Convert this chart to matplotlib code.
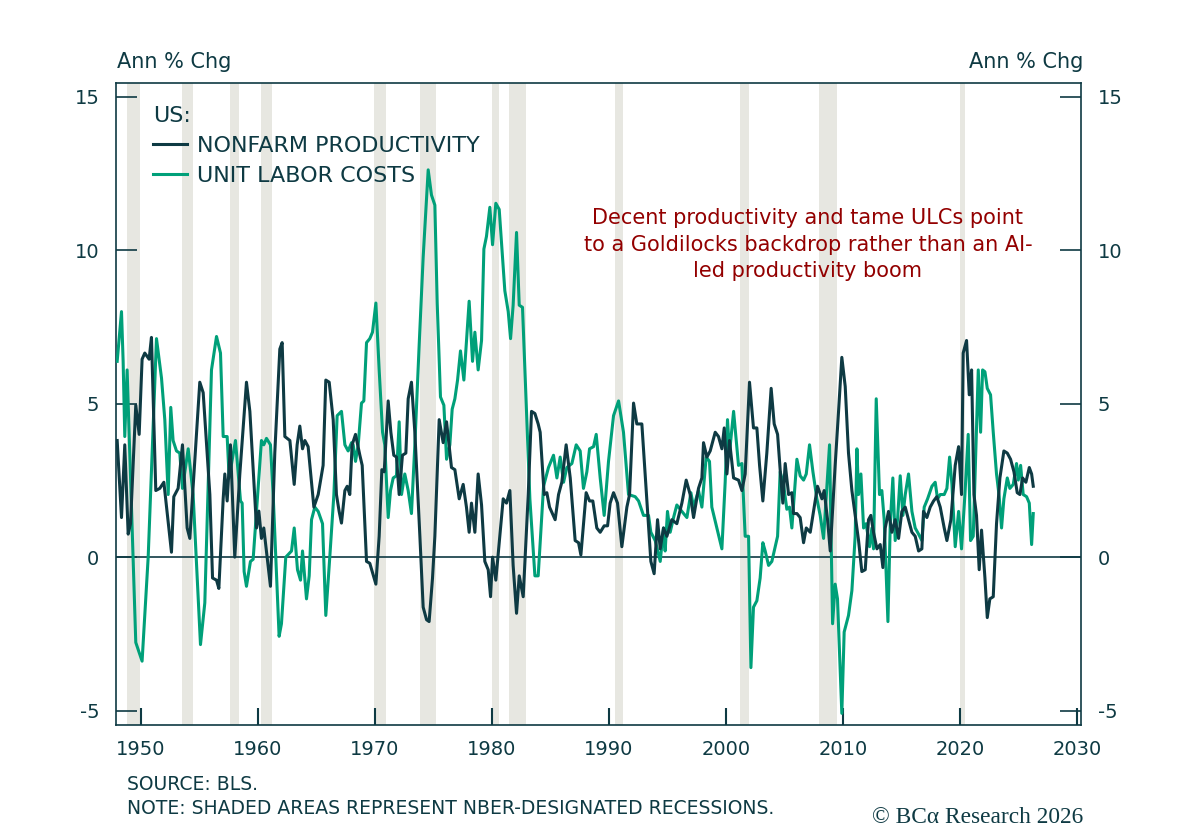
import matplotlib
matplotlib.use('Agg')
import matplotlib.pyplot as plt

plt.rcParams['font.family'] = ['DejaVu Sans']
plt.rcParams['axes.unicode_minus'] = False

DARK = '#0e3a43'
GREEN = '#00a079'
SHADE = '#e7e7e1'
RED = '#930000'

# Nonfarm productivity, annual % change
prod_year = [1947.98, 1948.35, 1948.63, 1948.92, 1949.12, 1949.57, 1949.86, 1950.11, 1950.34, 1950.71,
             1950.91, 1951.28, 1951.62, 1951.97, 1952.62, 1952.82, 1953.19, 1953.56, 1953.96, 1954.19,
             1955.04, 1955.33, 1955.9, 1956.13, 1956.47, 1956.67, 1957.04, 1957.18, 1957.38, 1957.66,
             1958.03, 1958.46, 1959.03, 1959.32, 1959.89, 1960.09, 1960.31, 1960.51, 1961.08, 1961.45,
             1961.88, 1962.08, 1962.31, 1962.74, 1963.11, 1963.36, 1963.59, 1963.82, 1964.02, 1964.3,
             1964.79, 1965.16, 1965.58, 1965.81, 1966.1, 1966.44, 1966.72, 1966.95, 1967.15, 1967.44,
             1967.64, 1967.86, 1968.06, 1968.35, 1968.72, 1968.92, 1969.29, 1969.57, 1970.09, 1970.37,
             1970.6, 1970.8, 1971.14, 1971.37, 1971.62, 1971.85, 1972.08, 1972.36, 1972.65, 1972.85,
             1973.13, 1973.42, 1973.85, 1974.13, 1974.42, 1974.64, 1974.93, 1975.13, 1975.5, 1975.84,
             1976.13, 1976.55, 1976.84, 1977.21, 1977.55, 1977.83, 1978.06, 1978.26, 1978.55, 1978.83,
             1979.12, 1979.4, 1979.69, 1979.89, 1980.06, 1980.34, 1980.68, 1980.97, 1981.25, 1981.54,
             1981.82, 1982.11, 1982.34, 1982.68, 1983.11, 1983.39, 1983.68, 1983.96, 1984.13, 1984.47,
             1984.7, 1984.93, 1985.41, 1985.7, 1985.98, 1986.35, 1986.7, 1987.12, 1987.41, 1987.61,
             1988.06, 1988.35, 1988.63, 1988.97, 1989.26, 1989.6, 1989.89, 1990.11, 1990.4, 1990.74,
             1991.11, 1991.54, 1991.77, 1992.11, 1992.39, 1992.82, 1993.19, 1993.39, 1993.59, 1993.87,
             1994.16, 1994.39, 1994.67, 1994.96, 1995.38, 1995.81, 1996.24, 1996.61, 1996.95, 1997.24,
             1997.66, 1997.95, 1998.09, 1998.38, 1998.66, 1999.09, 1999.37, 1999.66, 1999.86, 2000.09,
             2000.31, 2000.66, 2001.08, 2001.37, 2001.65, 2002.02, 2002.36, 2002.65, 2002.88, 2003.16,
             2003.5, 2003.87, 2004.13, 2004.42, 2004.64, 2004.87, 2005.07, 2005.36, 2005.64, 2005.78,
             2006.07, 2006.35, 2006.64, 2006.87, 2007.21, 2007.49, 2007.83, 2008.21, 2008.4, 2008.69,
             2008.92, 2009.34, 2009.63, 2009.91, 2010.2, 2010.48, 2010.77, 2011.05, 2011.34, 2011.62,
             2011.91, 2012.19, 2012.39, 2012.62, 2012.91, 2013.19, 2013.42, 2013.62, 2013.9, 2014.19,
             2014.47, 2014.76, 2015.04, 2015.33, 2015.61, 2015.9, 2016.18, 2016.47, 2016.75, 2016.89,
             2017.18, 2017.46, 2017.75, 2018.03, 2018.32, 2018.66, 2018.89, 2019.23, 2019.6, 2019.89,
             2020.14, 2020.28, 2020.57, 2020.8, 2021.0, 2021.2, 2021.42, 2021.65, 2021.85, 2022.14,
             2022.34, 2022.56, 2022.85, 2023.13, 2023.42, 2023.76, 2024.05, 2024.33, 2024.62, 2024.9,
             2025.13, 2025.36, 2025.64, 2025.93, 2026.13, 2026.27]
prod_val = [3.8, 1.29, 3.66, 0.75, 1.09, 4.95, 4.0, 6.45, 6.65, 6.45,
            7.16, 2.17, 2.24, 2.44, 0.16, 1.97, 2.24, 3.66, 0.95, 0.61,
            5.7, 5.36, 2.04, -0.68, -0.75, -1.02, 1.9, 2.71, 1.83, 3.66,
            0.0, 2.7, 5.7, 4.75, 0.95, 1.5, 0.61, 0.95, -0.95, 3.39,
            6.78, 6.99, 3.93, 3.8, 2.37, 3.66, 4.27, 3.53, 3.8, 3.6,
            1.63, 2.04, 2.99, 5.77, 5.7, 4.48, 2.04, 1.49, 1.11, 2.17,
            2.31, 2.04, 3.66, 4.0, 3.32, 2.99, -0.14, -0.2, -0.88, 0.68,
            2.85, 2.78, 5.09, 4.07, 3.32, 3.26, 2.04, 3.32, 3.39, 5.16,
            5.7, 4.07, 0.68, -1.63, -2.04, -2.1, -0.68, 0.68, 4.48, 3.73,
            4.41, 2.92, 2.85, 1.9, 2.37, 1.63, 0.81, 1.76, 0.81, 2.71,
            1.7, -0.14, -0.41, -1.29, 0.0, -0.75, 0.68, 1.9, 1.76, 2.17,
            -0.27, -1.83, -0.61, -1.29, 2.04, 4.75, 4.68, 4.34, 4.07, 2.04,
            2.1, 1.63, 1.22, 2.04, 2.44, 3.66, 2.58, 0.54, 0.47, 0.07,
            2.1, 1.83, 1.83, 0.95, 0.81, 1.02, 1.02, 1.76, 2.1, 1.76,
            0.34, 1.63, 2.04, 5.02, 4.34, 4.34, 2.17, 0.95, -0.14, -0.54,
            1.22, 0.27, 0.95, 0.68, 1.22, 1.09, 1.76, 2.51, 2.04, 1.29,
            2.24, 2.58, 3.73, 3.26, 3.46, 4.07, 3.93, 3.53, 4.21, 2.71,
            3.8, 2.58, 2.51, 2.17, 2.71, 5.7, 4.21, 4.21, 2.99, 1.83,
            3.39, 5.5, 4.34, 4.0, 2.85, 1.76, 3.05, 2.04, 2.1, 1.42,
            1.42, 1.29, 0.47, 0.95, 0.81, 1.49, 2.31, 1.9, 2.17, 1.22,
            0.2, 2.99, 4.75, 6.51, 5.56, 3.39, 2.17, 1.36, 0.54, -0.47,
            -0.41, 1.22, 1.36, 0.81, 0.27, 0.41, -0.34, 0.95, 1.49, 0.81,
            1.22, 0.61, 1.49, 1.63, 1.22, 0.81, 0.68, 0.2, 0.27, 1.49,
            1.29, 1.63, 1.83, 1.97, 1.63, 0.95, 0.54, 1.22, 2.99, 3.6,
            2.04, 6.65, 7.06, 5.29, 6.1, 2.04, 1.36, -0.41, 0.88, -0.68,
            -1.97, -1.36, -1.29, 1.09, 2.58, 3.46, 3.39, 3.19, 2.78, 2.1,
            2.04, 2.58, 2.44, 2.92, 2.71, 2.31]

# Unit labor costs, annual % change
ulc_year = [1947.98, 1948.35, 1948.49, 1948.63, 1948.83, 1949.57, 1950.11, 1950.63, 1951.34, 1951.77,
            1952.05, 1952.34, 1952.56, 1952.76, 1953.05, 1953.33, 1953.56, 1954.05, 1954.47, 1955.1,
            1955.47, 1956.04, 1956.47, 1956.81, 1957.04, 1957.38, 1957.55, 1958.09, 1958.52, 1958.66,
            1958.83, 1959.03, 1959.37, 1959.6, 1960.31, 1960.51, 1960.74, 1961.08, 1961.31, 1961.82,
            1962.02, 1962.39, 1962.88, 1963.11, 1963.39, 1963.65, 1963.82, 1964.16, 1964.39, 1964.59,
            1964.87, 1965.16, 1965.53, 1965.81, 1966.15, 1966.5, 1966.78, 1967.15, 1967.44, 1967.72,
            1968.01, 1968.15, 1968.35, 1968.58, 1968.86, 1969.06, 1969.29, 1969.57, 1969.8, 1970.09,
            1970.37, 1970.66, 1970.85, 1971.14, 1971.34, 1971.57, 1971.85, 1972.08, 1972.28, 1972.56,
            1972.85, 1973.13, 1973.42, 1973.79, 1974.13, 1974.56, 1974.84, 1975.13, 1975.33, 1975.61,
            1975.9, 1976.13, 1976.41, 1976.61, 1976.84, 1977.07, 1977.32, 1977.61, 1978.06, 1978.35,
            1978.55, 1978.83, 1979.12, 1979.32, 1979.54, 1979.83, 1980.06, 1980.34, 1980.63, 1980.83,
            1981.11, 1981.4, 1981.6, 1981.82, 1982.11, 1982.34, 1982.62, 1982.96, 1983.25, 1983.68,
            1983.96, 1984.42, 1984.84, 1985.27, 1985.56, 1985.84, 1986.13, 1986.41, 1986.84, 1987.21,
            1987.55, 1987.83, 1988.12, 1988.35, 1988.69, 1988.92, 1989.26, 1989.6, 1989.97, 1990.4,
            1990.83, 1991.25, 1991.68, 1992.25, 1992.54, 1992.96, 1993.39, 1993.59, 1993.96, 1994.39,
            1994.67, 1994.81, 1995.01, 1995.24, 1995.53, 1995.81, 1996.24, 1996.67, 1997.01, 1997.24,
            1997.66, 1997.95, 1998.32, 1998.6, 1998.8, 1999.23, 1999.66, 1999.94, 2000.14, 2000.31,
            2000.66, 2001.08, 2001.37, 2001.65, 2001.94, 2002.14, 2002.36, 2002.65, 2002.93, 2003.16,
            2003.36, 2003.65, 2003.93, 2004.42, 2004.64, 2004.93, 2005.21, 2005.44, 2005.64, 2006.07,
            2006.35, 2006.64, 2006.87, 2007.15, 2007.44, 2007.78, 2008.06, 2008.35, 2008.63, 2008.86,
            2009.12, 2009.34, 2009.54, 2009.91, 2010.11, 2010.48, 2010.77, 2011.05, 2011.2, 2011.34,
            2011.54, 2011.77, 2011.99, 2012.28, 2012.48, 2012.62, 2012.85, 2013.13, 2013.33, 2013.53,
            2013.85, 2014.05, 2014.27, 2014.47, 2014.67, 2014.9, 2015.13, 2015.33, 2015.61, 2015.9,
            2016.18, 2016.47, 2016.75, 2016.95, 2017.24, 2017.61, 2017.89, 2018.09, 2018.32, 2018.66,
            2018.89, 2019.12, 2019.32, 2019.6, 2019.89, 2020.14, 2020.43, 2020.71, 2020.91, 2021.14,
            2021.57, 2021.77, 2021.94, 2022.14, 2022.34, 2022.62, 2022.85, 2023.13, 2023.36, 2023.56,
            2023.76, 2024.05, 2024.27, 2024.56, 2024.84, 2024.99, 2025.19, 2025.41, 2025.7, 2025.93,
            2026.13, 2026.27]
ulc_val = [6.38, 8.0, 6.38, 3.93, 6.1, -2.78, -3.39, 0.0, 7.12, 5.83,
           4.48, 2.04, 4.88, 3.8, 3.46, 3.39, 2.24, 3.53, 2.04, -2.85,
           -1.49, 6.1, 7.19, 6.65, 3.93, 3.93, 2.58, 3.8, 1.83, 1.76,
           -0.47, -0.95, -0.14, -0.07, 3.8, 3.66, 3.87, 3.66, 2.04, -2.58,
           -2.17, 0.0, 0.2, 0.95, -0.41, -0.75, 0.2, -1.36, -0.61, 1.22,
           1.63, 1.49, 1.09, -1.9, 0.0, 2.04, 4.61, 4.75, 3.66, 3.46,
           3.73, 3.66, 3.12, 3.66, 5.02, 5.09, 6.99, 7.12, 7.33, 8.28,
           6.1, 4.07, 3.66, 1.29, 2.17, 2.58, 2.65, 4.41, 2.04, 2.71,
           2.17, 1.42, 3.66, 6.92, 9.77, 12.62, 11.8, 11.47, 8.28, 5.22,
           4.95, 3.19, 3.66, 4.82, 5.16, 5.77, 6.72, 5.77, 8.34, 6.38,
           7.33, 6.1, 7.06, 10.04, 10.45, 11.4, 10.18, 11.53, 11.33, 10.24,
           8.68, 8.0, 7.12, 8.21, 10.58, 8.21, 8.14, 4.75, 1.9, -0.61,
           -0.61, 2.31, 2.92, 3.32, 2.58, 3.26, 2.44, 2.92, 3.05, 3.66,
           3.46, 2.24, 2.78, 3.53, 3.6, 4.0, 2.58, 1.36, 3.12, 4.61,
           5.09, 4.07, 2.04, 1.97, 1.83, 1.36, 1.36, 0.81, 0.54, -0.14,
           0.95, 0.2, 1.49, 0.81, 1.29, 1.7, 1.49, 1.29, 2.1, 1.63,
           2.17, 1.63, 3.26, 3.12, 1.63, 0.95, 0.27, 2.44, 4.48, 3.39,
           4.75, 2.99, 3.05, 0.68, 0.68, -3.6, -1.63, -1.42, -0.68, 0.47,
           0.2, -0.27, -0.14, 0.68, 2.78, 2.37, 1.56, 1.63, 0.95, 3.19,
           2.65, 2.51, 2.71, 3.66, 2.78, 1.9, 1.36, 0.61, 2.31, 3.66,
           -2.17, -0.88, -1.36, -5.09, -2.44, -1.9, -1.09, 0.68, 3.53, 2.04,
           2.71, 0.95, 1.09, 0.34, 0.95, 0.27, 5.16, 2.04, 2.17, 1.22,
           -2.1, 1.09, 2.58, 0.54, 1.22, 2.65, 1.36, 2.04, 2.71, 1.49,
           0.95, 0.75, 0.54, 1.63, 1.9, 2.31, 2.44, 1.9, 2.04, 2.04,
           2.24, 3.26, 2.37, 0.34, 1.49, 0.27, 2.04, 4.0, 0.54, 0.68,
           6.1, 4.07, 6.1, 6.04, 5.5, 5.29, 4.07, 2.71, 1.97, 0.95,
           1.9, 2.58, 2.24, 2.37, 3.05, 2.51, 2.99, 2.04, 1.97, 1.76,
           0.41, 1.42]

# NBER recessions (decimal years, monthly dating)
rec_start = [1948.83, 1953.5, 1957.58, 1960.25, 1969.92, 1973.83, 1980.0, 1981.5, 1990.5, 2001.17, 2007.92, 2020.0]
rec_end = [1949.92, 1954.42, 1958.4, 1961.2, 1970.95, 1975.25, 1980.65, 1982.95, 1991.25, 2001.95, 2009.5, 2020.45]

x_ticks = [1950, 1960, 1970, 1980, 1990, 2000, 2010, 2020, 2030]
y_ticks = [-5, 0, 5, 10, 15]

fig = plt.figure(figsize=(12, 8.3), dpi=100)
ax = fig.add_axes([116 / 1200, 1 - 725 / 830, 965 / 1200, 642 / 830])

for s, e in zip(rec_start, rec_end):
    ax.axvspan(s, e, color=SHADE, lw=0, zorder=0)

ax.axhline(0, color=DARK, lw=1.2, zorder=1)
ax.plot(ulc_year, ulc_val, color=GREEN, lw=2.2, label='UNIT LABOR COSTS', zorder=3)
ax.plot(prod_year, prod_val, color=DARK, lw=2.2, label='NONFARM PRODUCTIVITY', zorder=4)

ax.set_xlim(1947.88, 2030.35)
ax.set_ylim(-5.47, 15.45)
ax.set_xticks(x_ticks)
ax.set_yticks(y_ticks)

for sp in ax.spines.values():
    sp.set_color(DARK)
    sp.set_linewidth(1.2)

ax.tick_params(axis='x', direction='in', length=12, width=1.5, colors=DARK,
               labelsize=14, pad=11, bottom=True, top=False)
ax.tick_params(axis='y', direction='in', length=15, width=1.2, colors=DARK,
               labelsize=14, pad=12, left=True, right=True, labelleft=True, labelright=True)

handles, labels = ax.get_legend_handles_labels()
leg = ax.legend(handles[::-1], labels[::-1], title='US:', loc='upper left',
                bbox_to_anchor=(0.018, 0.995), frameon=False, fontsize=16, title_fontsize=16,
                handlelength=1.5, handletextpad=0.45, labelspacing=0.45, alignment='left')
for t in leg.get_texts():
    t.set_color(DARK)
leg.get_title().set_color(DARK)

ax.text(0.717, 0.805,
        'Decent productivity and tame ULCs point\nto a Goldilocks backdrop rather than an AI-\nled productivity boom',
        transform=ax.transAxes, ha='center', va='top', fontsize=15, color=RED, linespacing=1.4)

fig.text(117 / 1200, 1 - 62 / 830, 'Ann % Chg', ha='left', va='center', fontsize=15, color=DARK)
fig.text(1083 / 1200, 1 - 62 / 830, 'Ann % Chg', ha='right', va='center', fontsize=15, color=DARK)

fig.text(127 / 1200, 1 - 784 / 830, 'SOURCE: BLS.', ha='left', va='center', fontsize=13.5, color=DARK)
fig.text(127 / 1200, 1 - 808 / 830, 'NOTE: SHADED AREAS REPRESENT NBER-DESIGNATED RECESSIONS.',
         ha='left', va='center', fontsize=13.5, color=DARK)
fig.text(1083 / 1200, 1 - 817 / 830, '© BCα Research 2026', ha='right', va='center', fontsize=16.8,
         color=DARK, family=['Liberation Serif', 'DejaVu Serif'])

fig.savefig('out.png', dpi=100)
